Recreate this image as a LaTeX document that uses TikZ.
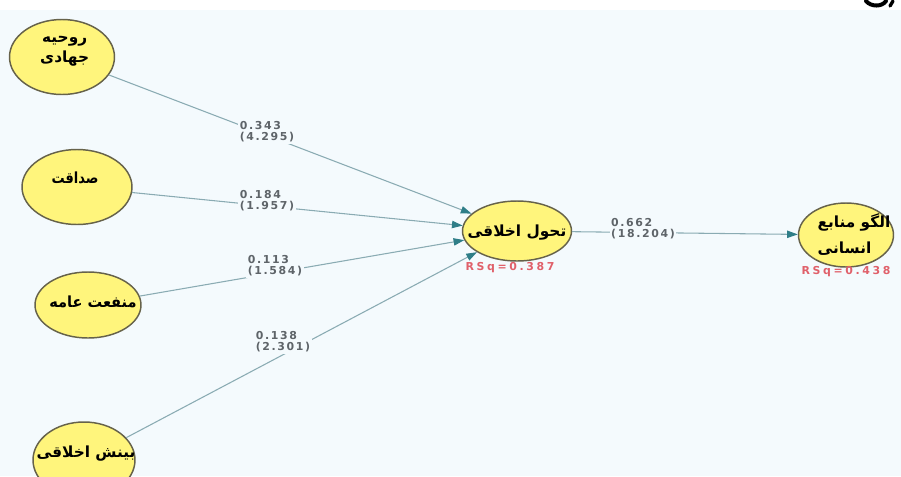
\documentclass[tikz,border=0pt]{standalone}
\usepackage{fontspec}
\usepackage{graphicx}
\TeXXeTstate=1
\newfontfamily\arabicfont[Script=Arabic]{DejaVu Sans}
\newfontfamily\numfont[LetterSpace=15]{DejaVu Sans}
\newfontfamily\rsqfont[LetterSpace=24]{DejaVu Sans}
\newcommand{\rtltext}[1]{\beginR #1\endR}
\newcommand{\placetext}[3]{\makebox[0pt]{\hspace*{#1}\smash{\raisebox{#2}{#3}}}}
\usetikzlibrary{arrows.meta,shapes.geometric}
\definecolor{bg}{HTML}{F4FAFD}
\definecolor{nodefill}{HTML}{FFF57C}
\definecolor{nodeline}{HTML}{66624A}
\definecolor{edgecol}{HTML}{8AABB3}
\definecolor{tipcol}{HTML}{2F7E88}
\definecolor{lblcol}{HTML}{5E6469}
\definecolor{rsqcol}{HTML}{E0606A}
\begin{document}
\begin{tikzpicture}[x=0.75pt,y=-0.75pt,
  construct/.style={ellipse, draw=nodeline, line width=1.1pt, fill=nodefill, inner sep=0pt,
    font=\arabicfont\bfseries\fontsize{11.5}{15}\selectfont, align=center},
  edgeline/.style={draw=edgecol, line width=0.8pt, -{Triangle[length=8pt,width=5.5pt,color=tipcol]}},
  coef/.style={fill=bg, inner sep=1pt, font=\numfont\bfseries\fontsize{8.2}{8.4}\selectfont, text=lblcol, align=left},
  rsqlbl/.style={font=\rsqfont\bfseries\fontsize{8.2}{9}\selectfont, text=rsqcol, inner sep=0pt}
]
\useasboundingbox (0,0) rectangle (901,476);
\fill[white] (0,0) rectangle (901,10);
\fill[bg] (0,10) rectangle (901,476);
% cropped fragment at the top right
\draw[line width=3pt, line cap=round] (866,1) .. controls (871,7) and (882,7) .. (886,1);
\draw[line width=2.5pt, line cap=round] (893,1) -- (890,6);

% constructs
\node[construct, minimum width=78.75pt, minimum height=56.25pt] (n1) at (62,57)
  {\placetext{4pt}{3.5pt}{\begin{tabular}{@{}c@{}}\rtltext{روحیه}\\\rtltext{جهادی}\end{tabular}}};
\node[construct, minimum width=82.5pt, minimum height=56.25pt] (n2) at (77,187)
  {\placetext{-3pt}{2.75pt}{\scalebox{0.85}[1]{\rtltext{صداقت}}}};
\node[construct, minimum width=79.5pt, minimum height=49.5pt] (n3) at (88,305)
  {\placetext{7.5pt}{-1.75pt}{\scalebox{0.95}[1]{\rtltext{منفعت عامه}}}};
\node[construct, minimum width=76.5pt, minimum height=57pt] (n4) at (84,460)
  {\placetext{3pt}{2pt}{\rtltext{بینش اخلاقی}}};
\node[construct, minimum width=81.75pt, minimum height=45pt] (n5) at (517,231)
  {\placetext{0pt}{-4pt}{\rtltext{تحول اخلاقی}}};
\node[construct, minimum width=71.25pt, minimum height=48pt,
  font=\arabicfont\bfseries\fontsize{11.5}{20}\selectfont] (n6) at (846,235)
  {\placetext{12pt}{-3pt}{\begin{tabular}{@{}l@{}}\rtltext{الگو منابع}\\\rtltext{انسانی}\end{tabular}}};

% paths
\draw[edgeline] (n1) -- (n5);
\draw[edgeline] (n2) -- (n5);
\draw[edgeline] (n3) -- (n5);
\draw[edgeline] (n4) -- (n5);
\draw[edgeline] (n5) -- (n6);

% coefficients
\node[coef] (c1) at (267,132) {0.343\\(4.295)};
\node[coef] (c2) at (267,201) {0.184\\(1.957)};
\node[coef] (c3) at (275,266) {0.113\\(1.584)};
\node[coef] (c4) at (283,342) {0.138\\(2.301)};
\node[coef] (c5) at (643,229) {0.662\\(18.204)};

% R squared
\node[rsqlbl] (r1) at (510,268) {RSq=0.387};
\node[rsqlbl] (r2) at (846,272) {RSq=0.438};
\end{tikzpicture}
\end{document}
